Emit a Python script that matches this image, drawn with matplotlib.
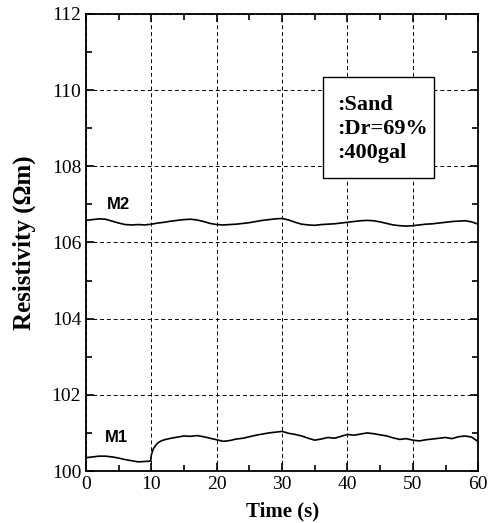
import numpy as np
import matplotlib.pyplot as plt
from matplotlib.patches import Rectangle
from matplotlib.ticker import MultipleLocator

# M2 trace
m2_t = [0, 1, 2, 3, 4, 5, 6, 7, 8, 9, 10, 11, 12, 13, 14, 15, 16, 17, 18, 19,
        20, 21, 22, 23, 24, 25, 26, 27, 28, 29, 30, 31, 32, 33, 34, 35, 36, 37,
        38, 39, 40, 41, 42, 43, 44, 45, 46, 47, 48, 49, 50, 51, 52, 53, 54, 55,
        56, 57, 58, 59, 60]
m2_v = [106.58, 106.60, 106.62, 106.61, 106.56, 106.51, 106.47, 106.46, 106.47,
        106.46, 106.48, 106.51, 106.53, 106.56, 106.58, 106.60, 106.61, 106.59,
        106.55, 106.50, 106.47, 106.46, 106.47, 106.48, 106.50, 106.52, 106.55,
        106.58, 106.60, 106.62, 106.63, 106.59, 106.53, 106.48, 106.46, 106.45,
        106.47, 106.48, 106.49, 106.51, 106.53, 106.55, 106.57, 106.58, 106.57,
        106.54, 106.50, 106.46, 106.44, 106.43, 106.44, 106.46, 106.48, 106.49,
        106.51, 106.53, 106.55, 106.56, 106.57, 106.54, 106.48]

# M1 trace
m1_t = [0, 1, 2, 3, 4, 5, 6, 7, 8, 9, 9.9, 10.0, 10.3, 10.7, 11, 11.5, 12, 13,
        14, 15, 16, 17, 18, 19, 20, 21, 22, 23, 24, 25, 26, 27, 28, 29, 30, 31,
        32, 33, 34, 35, 36, 37, 38, 39, 40, 41, 42, 43, 44, 45, 46, 47, 48, 49,
        50, 51, 52, 53, 54, 55, 56, 57, 58, 59, 60]
m1_v = [100.35, 100.37, 100.39, 100.39, 100.37, 100.34, 100.30, 100.27, 100.24,
        100.25, 100.26, 100.42, 100.58, 100.68, 100.74, 100.79, 100.82, 100.86,
        100.89, 100.92, 100.91, 100.93, 100.90, 100.86, 100.82, 100.78, 100.80,
        100.84, 100.86, 100.90, 100.94, 100.97, 101.00, 101.02, 101.04, 100.99,
        100.96, 100.92, 100.86, 100.81, 100.84, 100.88, 100.86, 100.91, 100.96,
        100.94, 100.97, 101.00, 100.98, 100.95, 100.92, 100.87, 100.83, 100.85,
        100.81, 100.79, 100.82, 100.84, 100.86, 100.88, 100.85, 100.90, 100.92,
        100.89, 100.77]

conditions = [':Sand', ':Dr=69%', ':400gal']

plt.rcParams['font.family'] = ['Liberation Serif', 'DejaVu Serif']

fig = plt.figure(figsize=(4.94, 5.23), dpi=100)
ax = fig.add_axes([0.174, 0.0994, 0.794, 0.874])

ax.plot(m2_t, m2_v, color='black', lw=1.2)
ax.plot(m1_t, m1_v, color='black', lw=1.2)

ax.set_xlim(0, 60)
ax.set_ylim(100, 112)
ax.xaxis.set_major_locator(MultipleLocator(10))
ax.xaxis.set_minor_locator(MultipleLocator(5))
ax.yaxis.set_major_locator(MultipleLocator(2))
ax.yaxis.set_minor_locator(MultipleLocator(1))
ax.tick_params(which='both', direction='in', top=True, right=True,
               labelsize=14, width=1.2)
ax.tick_params(which='major', length=6)
ax.tick_params(which='minor', length=4)
for s in ax.spines.values():
    s.set_linewidth(1.3)

ax.grid(True, which='major', color='black', linestyle=(0, (4, 3)), lw=0.7)

ax.set_xlabel('Time (s)', fontsize=15, fontweight='bold', labelpad=6)
ax.set_ylabel('Resistivity (\u03a9m)', fontsize=18, fontweight='bold', labelpad=11)

ax.text(4.9, 107.0, 'M2', fontsize=12, fontweight='bold',
        family='Liberation Sans', ha='center', va='center')
ax.text(4.7, 100.87, 'M1', fontsize=12, fontweight='bold',
        family='Liberation Sans', ha='center', va='center')

# condition box
ax.add_patch(Rectangle((36.3, 107.7), 17.0, 2.65, fc='white', ec='black',
                       lw=1.0, zorder=3))
ax.text(38.4, 108.98, '\n'.join(conditions), fontsize=16, fontweight='bold',
        ha='left', va='center', linespacing=1.25, zorder=4)

fig.savefig('out.png', dpi=100)
